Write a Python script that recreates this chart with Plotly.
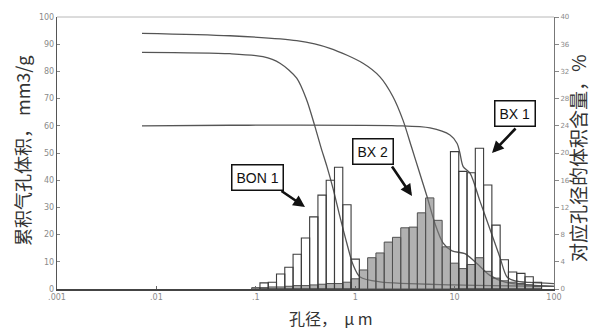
import plotly.graph_objects as go

# ---- histogram data: pore diameter bin centres (µm, 12 bins per decade) and volume share (%)
bon1_d = [0.1212, 0.1468, 0.1778, 0.2154, 0.2610, 0.3162, 0.3831, 0.4642, 0.5623, 0.6813, 0.8254, 1.0]
bon1_pct = [0.9, 1.0, 2.2, 3.2, 5.1, 7.5, 10.6, 13.8, 16.0, 17.9, 12.4, 4.4]

bx2_d = [0.1, 0.1212, 0.1468, 0.1778, 0.2154, 0.2610, 0.3162, 0.3831, 0.4642, 0.5623, 0.6813, 0.8254,
         1.0, 1.2115, 1.4678, 1.7783, 2.1544, 2.6102, 3.1623, 3.8312, 4.6416, 5.6234, 6.8129, 8.2540,
         10.0, 12.115, 14.678, 17.783, 21.544, 26.102, 31.623, 38.312, 46.416, 56.234, 68.129]
bx2_pct = [0.2, 0.2, 0.3, 0.3, 0.4, 0.5, 0.5, 0.6, 0.7, 0.8, 0.8, 1.0,
           1.5, 2.8, 4.6, 5.3, 6.9, 7.6, 9.0, 9.1, 11.2, 13.4, 10.1, 6.2,
           3.8, 3.0, 3.6, 4.6, 2.6, 1.6, 1.2, 1.0, 0.8, 0.6, 0.4]

bx1_d = [10.0, 12.115, 14.678, 17.783, 21.544, 26.102, 31.623, 38.312, 46.416, 56.234, 68.129]
bx1_pct = [20.2, 17.3, 17.1, 20.7, 15.3, 9.4, 4.3, 2.5, 2.3, 1.8, 1.0]

# ---- cumulative pore volume curves (mm3/g)
bx2_cum_d = [0.00716, 0.055, 0.258, 0.557, 1.197, 1.775, 2.40, 3.03, 3.70, 4.42, 5.28, 6.35, 7.64,
             9.42, 12.7, 17.2, 22.7, 32.1, 100]
bx2_cum_v = [94.0, 93.1, 91.3, 88.5, 83.0, 78.0, 70.7, 62.0, 52.0, 43.0, 34.0, 24.0, 17.0,
             14.0, 13.0, 9.0, 5.0, 2.5, 1.0]

bon1_cum_d = [0.00716, 0.055, 0.118, 0.175, 0.258, 0.325, 0.394, 0.453, 0.52, 0.598, 0.703, 0.821,
              0.95, 1.12, 1.78, 9.87, 100]
bon1_cum_v = [87.0, 86.5, 85.4, 83.0, 77.5, 69.5, 59.7, 52.0, 45.0, 37.0, 26.5, 17.0,
              9.0, 4.4, 2.6, 1.5, 1.0]

bx1_cum_d = [0.00716, 0.055, 2.64, 5.66, 8.99, 10.6, 11.3, 12.2, 14.3, 18.0, 22.7, 28.6, 33.7,
             40.5, 57.4, 100]
bx1_cum_v = [60.0, 60.2, 60.0, 59.2, 56.6, 53.5, 50.0, 45.0, 42.6, 32.3, 22.0, 11.6, 4.4,
             3.0, 2.4, 2.0]

x_tickvals = [0.001, 0.01, 0.1, 1, 10, 100]
x_ticktext = [".001", ".01", ".1", "1", "10", "100"]

CJK = "Noto Sans CJK SC"
LINE = "#555555"
GRAY_TXT = "#8a8a8a"


def bar_outline(centres, heights):
    """Rectangles of a log-binned histogram as one closed-path trace."""
    half = 10 ** (1 / 24)
    xs, ys = [], []
    for c, h in zip(centres, heights):
        x0, x1 = c / half, c * half
        xs += [x0, x0, x1, x1, x0, None]
        ys += [0, h, h, 0, 0, None]
    return xs, ys


fig = go.Figure()

# shaded histogram (BX 2)
xs, ys = bar_outline(bx2_d, bx2_pct)
fig.add_trace(go.Scatter(x=xs, y=ys, yaxis="y2", mode="lines", fill="toself",
                         fillcolor="rgba(125,125,125,0.6)",
                         line=dict(color="#505050", width=1), hoverinfo="skip"))

# open histograms (BON 1, BX 1)
for d, p in [(bon1_d, bon1_pct), (bx1_d, bx1_pct)]:
    xs, ys = bar_outline(d, p)
    fig.add_trace(go.Scatter(x=xs, y=ys, yaxis="y2", mode="lines",
                             line=dict(color="#3c3c3c", width=1.1), hoverinfo="skip"))

# cumulative curves
for d, v in [(bx2_cum_d, bx2_cum_v), (bon1_cum_d, bon1_cum_v), (bx1_cum_d, bx1_cum_v)]:
    fig.add_trace(go.Scatter(x=d, y=v, mode="lines",
                             line=dict(color=LINE, width=1.3, shape="spline", smoothing=0.8)))

W, H = 593, 333
L, R, T, B = 57, 39, 17, 44
pw, ph = W - L - R, H - T - B


def px(xp):
    return (xp - L) / pw


def py(yp):
    return (H - B - yp) / ph


annotations = []
# labelled boxes
for text, cx, cy in [("BON 1", 257, 177.5), ("BX 2", 372.5, 151), ("BX 1", 515, 113.5)]:
    annotations.append(dict(xref="paper", yref="paper", x=px(cx), y=py(cy), text=text,
                            xanchor="center", yanchor="middle",
                            showarrow=False, font=dict(family="Arial", size=14, color="#111"),
                            bgcolor="white", bordercolor="#111", borderwidth=1.5, borderpad=4))
# arrows
for tip, tail in [((305, 207), (280, 190)), ((412, 196), (391, 165)), ((492, 153), (517, 127))]:
    annotations.append(dict(xref="paper", yref="paper", x=px(tip[0]), y=py(tip[1]), text="",
                            showarrow=True, ax=tail[0] - tip[0], ay=tail[1] - tip[1],
                            arrowhead=2, arrowsize=0.9, arrowwidth=2.6, arrowcolor="#111",
                            standoff=0, startstandoff=0))
# axis titles
for text, cx, cy, ang, size in [("孔径，  μ m", 331, 318, 0, 16),
                                ("累积气孔体积， mm3/g", 22, 151, -90, 18),
                                ("对应孔径的体积含量，%", 578, 158, -90, 19)]:
    annotations.append(dict(xref="paper", yref="paper", x=px(cx), y=py(cy), text=text,
                            xanchor="center", yanchor="middle", textangle=ang,
                            showarrow=False,
                            font=dict(family=CJK, size=size, color="#333")))

fig.update_layout(
    width=W, height=H,
    margin=dict(l=L, r=R, t=T, b=B, pad=0),
    paper_bgcolor="white", plot_bgcolor="white",
    showlegend=False,
    annotations=annotations,
    shapes=[dict(type="line", xref="paper", yref="paper", x0=0, x1=1, y0=1, y1=1,
                 line=dict(color="#b8b8b8", width=1))],
    xaxis=dict(type="log", range=[-3, 2], tickvals=x_tickvals, ticktext=x_ticktext,
               showgrid=False, zeroline=False, showline=True, linecolor="#444", linewidth=1.6,
               ticks="inside", ticklen=3, tickcolor="#666",
               tickfont=dict(family="DejaVu Sans", size=8, color=GRAY_TXT)),
    yaxis=dict(range=[0, 100], dtick=10, showgrid=False, zeroline=False,
               showline=True, linecolor="#555", linewidth=1.4,
               ticks="inside", ticklen=3, tickcolor="#888",
               tickfont=dict(family="DejaVu Sans", size=8, color=GRAY_TXT)),
    yaxis2=dict(range=[0, 40], dtick=4, overlaying="y", side="right", showgrid=False,
                zeroline=False, showline=True, linecolor="#777", linewidth=1,
                ticks="outside", ticklen=4, tickcolor="#888",
                tickfont=dict(family="DejaVu Sans", size=7, color=GRAY_TXT)),
)

fig.write_html("out.html")
